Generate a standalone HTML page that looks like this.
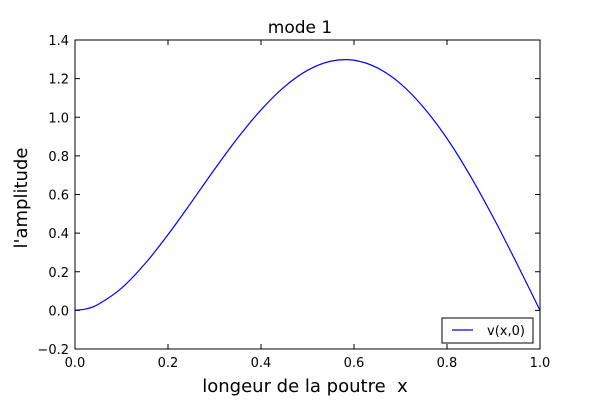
<!DOCTYPE html>
<html><head><meta charset="utf-8"><style>
body{margin:0;background:#fff;}
svg{display:block;font-family:"DejaVu Sans","Liberation Sans",sans-serif;}
</style></head><body>
<svg id="chart" width="600" height="400" viewBox="0 0 600 400">
<rect width="600" height="400" fill="#fff"/>
<g id="ticks"></g>
<path id="curve" fill="none" stroke="#0000ff" stroke-width="1.2"/>
<rect x="75" y="40" width="465" height="309" fill="none" stroke="#000" stroke-width="1"/>
<text x="300" y="33" font-size="17" text-anchor="middle">mode 1</text>
<text x="305" y="392" font-size="18" text-anchor="middle">longeur de la poutre &#160;x</text>
<text transform="translate(27,198) rotate(-90)" font-size="18" text-anchor="middle">l'amplitude</text>
<g>
<rect x="442" y="318" width="91" height="25" fill="#fff" stroke="#000" stroke-width="1"/>
<line x1="452" y1="330" x2="473" y2="330" stroke="#0000ff" stroke-width="1.2"/>
<text x="487" y="335" font-size="13">v(x,0)</text>
</g>
</svg>
<script>
const xs=[0,0.025,0.05,0.1,0.15,0.2,0.25,0.3,0.35,0.4,0.45,0.5,0.55,0.6,0.65,0.7,0.75,0.8,0.85,0.9,0.95,1.0];
const vs=[0,0.008,0.031,0.115,0.240,0.392,0.559,0.730,0.893,1.038,1.157,1.243,1.290,1.295,1.256,1.174,1.050,0.890,0.697,0.479,0.244,0];
const xTicks=[0,0.2,0.4,0.6,0.8,1.0];
const xTickLabels=["0.0","0.2","0.4","0.6","0.8","1.0"];
const yTicks=[-0.2,0,0.2,0.4,0.6,0.8,1.0,1.2,1.4];
const yTickLabels=["\u22120.2","0.0","0.2","0.4","0.6","0.8","1.0","1.2","1.4"];
const X0=75,X1=540,Y0=349,Y1=40;
function sx(v){return X0+(v-0)/(1-0)*(X1-X0);}
function sy(v){return Y0-(v+0.2)/(1.6)*(Y0-Y1);}
const NS="http://www.w3.org/2000/svg";
const g=document.getElementById('ticks');
function mk(t,a){const e=document.createElementNS(NS,t);for(const k in a)e.setAttribute(k,a[k]);return e;}
xTicks.forEach((t,i)=>{
 const x=sx(t);
 const a=mk('line',{x1:x,y1:Y0,x2:x,y2:Y0-5,stroke:'#000'});
 
 
 g.appendChild(a);
 const b=mk('line',{x1:x,y1:Y1,x2:x,y2:Y1+5,stroke:'#000'});
 
 
 g.appendChild(b);
 const tx=mk('text',{x:x,y:Y0+18,'font-size':13,'text-anchor':'middle'});
 tx.textContent=xTickLabels[i];
 
 
 g.appendChild(tx);
});
yTicks.forEach((t,i)=>{
 const y=sy(t);
 const a=mk('line',{x1:X0,y1:y,x2:X0+5,y2:y,stroke:'#000'});
 
 
 g.appendChild(a);
 const b=mk('line',{x1:X1,y1:y,x2:X1-5,y2:y,stroke:'#000'});
 
 
 g.appendChild(b);
 const tx=mk('text',{x:X0-6,y:y+5,'font-size':13,'text-anchor':'end'});
 tx.textContent=yTickLabels[i];
 
 
 g.appendChild(tx);
});
const P=xs.map((x,i)=>[sx(x),sy(vs[i])]);
let d='M'+P[0][0]+','+P[0][1];
for(let i=0;i<P.length-1;i++){
 const p0=P[Math.max(0,i-1)],p1=P[i],p2=P[i+1],p3=P[Math.min(P.length-1,i+2)];
 const c1=[p1[0]+(p2[0]-p0[0])/6,p1[1]+(p2[1]-p0[1])/6];
 const c2=[p2[0]-(p3[0]-p1[0])/6,p2[1]-(p3[1]-p1[1])/6];
 d+=' C'+c1+' '+c2+' '+p2;
}
document.getElementById('curve').setAttribute('d',d);
</script>
</body></html>
